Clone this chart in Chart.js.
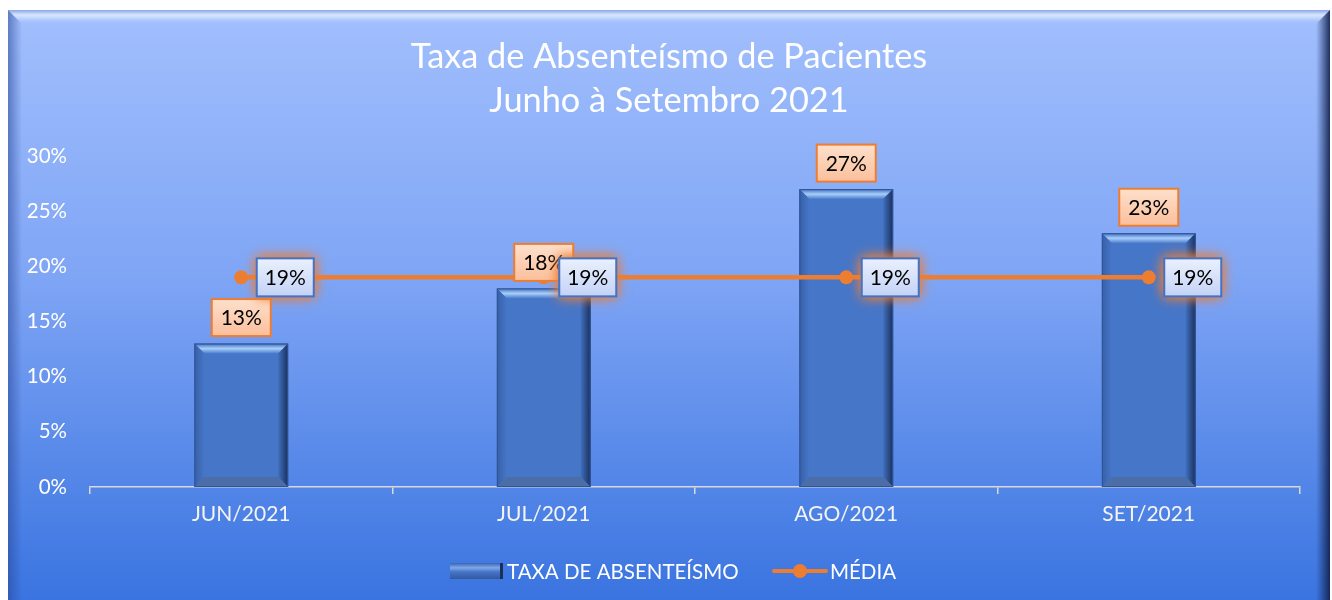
<!DOCTYPE html>
<html lang="pt-BR">
<head>
<meta charset="UTF-8">
<title>Taxa de Absenteísmo de Pacientes</title>
<script src="https://cdn.jsdelivr.net/npm/chart.js@4.4.1/dist/chart.umd.min.js"></script>
<style>
    html, body { margin: 0; padding: 0; background: #ffffff; }
    #wrap { width: 1332px; height: 600px; }
</style>
</head>
<body>
<div id="wrap"><canvas id="absenteismo-chart" width="1332" height="600"></canvas></div>
<script>
// Dados do gráfico
const meses = ['JUN/2021', 'JUL/2021', 'AGO/2021', 'SET/2021'];
const taxaAbsenteismo = [13, 18, 27, 23];
const media = [19, 19, 19, 19];
const tituloLinhas = ['Taxa de Absenteísmo de Pacientes', 'Junho à Setembro 2021'];
const nomesSeries = ['TAXA DE ABSENTEÍSMO', 'MÉDIA'];

const FONTE = 'Lato, "Open Sans", sans-serif';
const LARANJA = '#ed7d31';
const AZUL_BARRA = '#4676c8';

/**
 * Fundo do gráfico com efeito de bisel
 */
const fundoPlugin = {
    id: 'fundo',
    beforeDraw(chart) {
        const ctx = chart.ctx;
        const l = 8, t = 10, r = 1330, b = 600, bv = 14;
        ctx.save();
        ctx.fillStyle = '#ffffff';
        ctx.fillRect(0, 0, chart.width, chart.height);

        const g = ctx.createLinearGradient(0, t, 0, b);
        g.addColorStop(0, '#a2bffd');
        g.addColorStop(0.45, '#7fa5f5');
        g.addColorStop(1, '#3a74e0');
        ctx.fillStyle = g;
        ctx.fillRect(l, t, r - l, b - t);

        // topo
        const gt = ctx.createLinearGradient(0, t, 0, t + bv);
        gt.addColorStop(0, '#8aa6ea');
        gt.addColorStop(0.35, '#d8e7ff');
        gt.addColorStop(0.7, '#b4cbfb');
        gt.addColorStop(1, 'rgba(162,191,253,0)');
        ctx.fillStyle = gt;
        ctx.beginPath();
        ctx.moveTo(l, t); ctx.lineTo(r, t); ctx.lineTo(r - bv, t + bv); ctx.lineTo(l + bv, t + bv);
        ctx.closePath(); ctx.fill();

        // esquerda
        const gl = ctx.createLinearGradient(l, 0, l + bv, 0);
        gl.addColorStop(0, 'rgba(40,70,150,0.55)');
        gl.addColorStop(1, 'rgba(40,70,150,0)');
        ctx.fillStyle = gl;
        ctx.beginPath();
        ctx.moveTo(l, t); ctx.lineTo(l + bv, t + bv); ctx.lineTo(l + bv, b); ctx.lineTo(l, b);
        ctx.closePath(); ctx.fill();

        // direita
        const gr = ctx.createLinearGradient(r - bv, 0, r, 0);
        gr.addColorStop(0, 'rgba(20,40,90,0)');
        gr.addColorStop(1, 'rgba(15,30,70,0.9)');
        ctx.fillStyle = gr;
        ctx.beginPath();
        ctx.moveTo(r, t); ctx.lineTo(r, b); ctx.lineTo(r - bv, b); ctx.lineTo(r - bv, t + bv);
        ctx.closePath(); ctx.fill();

        // título (centralizado no painel)
        ctx.fillStyle = '#ffffff';
        ctx.font = '34.3px ' + FONTE;
        ctx.textAlign = 'center';
        ctx.textBaseline = 'middle';
        tituloLinhas.forEach((linha, i) => ctx.fillText(linha, 669, 57 + i * 44));
        ctx.restore();
    }
};

/**
 * Desenha o bisel das barras (efeito 3D)
 */
const biselPlugin = {
    id: 'bisel',
    afterDatasetDraw(chart, args) {
        if (args.index !== 0) return;
        const ctx = chart.ctx;
        const bv = 10;
        args.meta.data.forEach(bar => {
            const l = bar.x - bar.width / 2, r = bar.x + bar.width / 2;
            const t = bar.y, b = bar.base;
            ctx.save();
            // topo
            const gt = ctx.createLinearGradient(0, t, 0, t + bv);
            gt.addColorStop(0, '#3d6bbd');
            gt.addColorStop(0.5, '#a8cffb');
            gt.addColorStop(1, '#4a7bcc');
            ctx.fillStyle = gt;
            ctx.beginPath();
            ctx.moveTo(l, t); ctx.lineTo(r, t); ctx.lineTo(r - bv, t + bv); ctx.lineTo(l + bv, t + bv);
            ctx.closePath(); ctx.fill();
            // esquerda
            const gl = ctx.createLinearGradient(l, 0, l + bv, 0);
            gl.addColorStop(0, '#375fa6');
            gl.addColorStop(1, '#4676c8');
            ctx.fillStyle = gl;
            ctx.beginPath();
            ctx.moveTo(l, t); ctx.lineTo(l + bv, t + bv); ctx.lineTo(l + bv, b - bv); ctx.lineTo(l, b);
            ctx.closePath(); ctx.fill();
            // direita
            const gr = ctx.createLinearGradient(r - bv, 0, r, 0);
            gr.addColorStop(0, '#4070bf');
            gr.addColorStop(1, '#1b2f5a');
            ctx.fillStyle = gr;
            ctx.beginPath();
            ctx.moveTo(r, t); ctx.lineTo(r, b); ctx.lineTo(r - bv, b - bv); ctx.lineTo(r - bv, t + bv);
            ctx.closePath(); ctx.fill();
            // base
            ctx.fillStyle = '#4b6ea9';
            ctx.beginPath();
            ctx.moveTo(l, b); ctx.lineTo(l + bv, b - bv); ctx.lineTo(r - bv, b - bv); ctx.lineTo(r, b);
            ctx.closePath(); ctx.fill();
            ctx.strokeStyle = '#2f5597';
            ctx.lineWidth = 1;
            ctx.strokeRect(l + 0.5, t + 0.5, r - l - 1, b - t - 1);
            ctx.restore();
        });
    }
};

/**
 * Rótulos de dados (caixas) e legenda
 */
function caixaRotulo(ctx, cx, cy, w, h, texto, tipo) {
    const x = cx - w / 2, y = cy - h / 2;
    ctx.save();
    const g = ctx.createLinearGradient(0, y, 0, y + h);
    if (tipo === 'barra') {
        g.addColorStop(0, '#fde0cc');
        g.addColorStop(1, '#fbbf9b');
        ctx.fillStyle = g;
        ctx.fillRect(x, y, w, h);
        ctx.strokeStyle = LARANJA;
    } else {
        // brilho laranja em volta da caixa
        ctx.shadowColor = 'rgba(237,125,49,1)';
        ctx.shadowBlur = 12;
        g.addColorStop(0, '#eaf0fd');
        g.addColorStop(1, '#c3d2f7');
        ctx.fillStyle = g;
        ctx.fillRect(x, y, w, h);
        ctx.fillRect(x, y, w, h);
        ctx.shadowBlur = 0;
        ctx.shadowColor = 'transparent';
        ctx.strokeStyle = '#4472c4';
    }
    ctx.lineWidth = 2;
    ctx.strokeRect(x, y, w, h);
    ctx.fillStyle = '#000000';
    ctx.font = '21px ' + FONTE;
    ctx.textAlign = 'center';
    ctx.textBaseline = 'middle';
    ctx.fillText(texto, cx, cy + 1);
    ctx.restore();
}

const rotulosPlugin = {
    id: 'rotulos',
    afterDatasetsDraw(chart) {
        const ctx = chart.ctx;
        const barras = chart.getDatasetMeta(0).data;
        barras.forEach((bar, i) => {
            caixaRotulo(ctx, bar.x, bar.y - 26, 59, 37, taxaAbsenteismo[i] + '%', 'barra');
        });
        const pontos = chart.getDatasetMeta(1).data;
        pontos.forEach((pt, i) => {
            caixaRotulo(ctx, pt.x + 44, pt.y, 57, 38, media[i] + '%', 'media');
        });
    },
    afterDraw(chart) {
        const ctx = chart.ctx;
        const y = 571;
        ctx.save();
        // amostra da barra
        const sx = 450, sw = 53, sh = 16;
        ctx.fillStyle = AZUL_BARRA;
        ctx.fillRect(sx, y - sh / 2, sw, sh);
        const gs = ctx.createLinearGradient(0, y - sh / 2, 0, y + sh / 2);
        gs.addColorStop(0, '#3a64b0');
        gs.addColorStop(0.3, '#7fa8ea');
        gs.addColorStop(0.55, '#4676c8');
        gs.addColorStop(1, '#33599e');
        ctx.fillStyle = gs;
        ctx.fillRect(sx, y - sh / 2, sw, sh);
        ctx.fillStyle = '#1b2f5a';
        ctx.fillRect(sx + sw - 3, y - sh / 2, 3, sh);
        // texto
        ctx.fillStyle = '#ffffff';
        ctx.font = '20.5px ' + FONTE;
        ctx.textAlign = 'left';
        ctx.textBaseline = 'middle';
        ctx.fillText(nomesSeries[0], 507, y + 1);
        // amostra da linha
        ctx.strokeStyle = LARANJA;
        ctx.lineWidth = 4;
        ctx.lineCap = 'round';
        ctx.beginPath();
        ctx.moveTo(774, y); ctx.lineTo(826, y);
        ctx.stroke();
        ctx.fillStyle = LARANJA;
        ctx.beginPath();
        ctx.arc(800, y, 7, 0, Math.PI * 2);
        ctx.fill();
        ctx.fillStyle = '#ffffff';
        ctx.fillText(nomesSeries[1], 830, y + 1);
        ctx.restore();
    }
};

const ctx = document.getElementById('absenteismo-chart').getContext('2d');
const absenteismoChart = new Chart(ctx, {
    type: 'bar',
    data: {
        labels: meses,
        datasets: [{
            type: 'bar',
            label: nomesSeries[0],
            data: taxaAbsenteismo,
            backgroundColor: AZUL_BARRA,
            borderWidth: 0,
            categoryPercentage: 1,
            barPercentage: 0.31,
            order: 2
        }, {
            type: 'line',
            label: nomesSeries[1],
            data: media,
            borderColor: LARANJA,
            borderWidth: 4.5,
            pointRadius: 7,
            pointBackgroundColor: LARANJA,
            pointBorderWidth: 0,
            fill: false,
            order: 1
        }]
    },
    options: {
        responsive: false,
        animation: false,
        layout: {
            padding: { left: 0, right: 32, top: 156, bottom: 0 }
        },
        scales: {
            x: {
                offset: true,
                grid: {
                    display: true,
                    drawOnChartArea: false,
                    drawTicks: true,
                    tickLength: 7,
                    color: '#d9d9d9',
                    lineWidth: 1.5
                },
                border: { display: true, color: '#d9d9d9', width: 1.5 },
                ticks: {
                    color: '#f4f4f4',
                    font: { family: FONTE, size: 21 },
                    padding: 8
                },
                afterFit(scale) { scale.height = 113; }
            },
            y: {
                min: 0,
                max: 30,
                grid: { display: false, drawTicks: false },
                border: { display: false },
                ticks: {
                    stepSize: 5,
                    color: '#ffffff',
                    font: { family: FONTE, size: 20.5 },
                    padding: 23,
                    callback: v => v + '%'
                },
                afterFit(scale) { scale.width = 90; }
            }
        },
        plugins: {
            legend: { display: false },
            tooltip: { enabled: false },
            title: { display: false }
        }
    },
    plugins: [fundoPlugin, biselPlugin, rotulosPlugin]
});
</script>
</body>
</html>
